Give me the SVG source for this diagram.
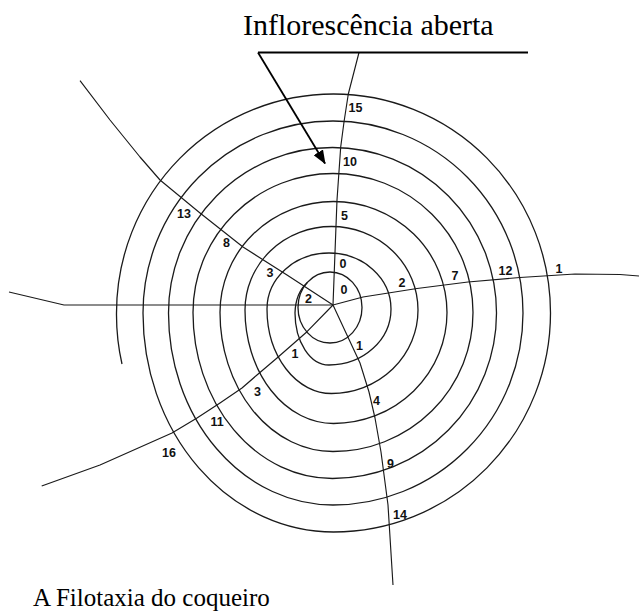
<svg xmlns="http://www.w3.org/2000/svg" width="639" height="611" viewBox="0 0 639 611">
<style>
.sp{fill:none;stroke:#1a1a1a;stroke-width:1.3}
.ray{fill:none;stroke:#1a1a1a;stroke-width:1.15;stroke-linejoin:round}
.num{font-family:"Liberation Sans",Arial,sans-serif;font-weight:bold;font-size:12.5px;fill:#111}
.ttl{font-family:"Liberation Serif","Times New Roman",serif;fill:#000}
</style>
<defs>
<marker id="ah" viewBox="0 0 14 11" refX="13" refY="5.5" markerWidth="14" markerHeight="11" markerUnits="userSpaceOnUse" orient="auto">
<path d="M0,0 L14,5.5 L0,11 Z" fill="#000"/>
</marker>
</defs>
<rect width="639" height="611" fill="#fff"/>
<g id="spiral">
<ellipse class="sp" cx="330" cy="307.5" rx="32" ry="35.5"/>
<path class="sp" d="M307.4 282.4 Q295.5 293 295 313 A34 52 0 0 0 329 365 A62 56 0 1 0 267 309 A64.5 84.5 0 0 0 331.5 393.5 A86.5 83.5 0 1 0 245 310 A88.5 113.5 0 0 0 333.5 423.5 A113.5 111 0 1 0 220 312.5 A113 139 0 0 0 333 451.5 A140 139 0 1 0 193 312.5 A139.5 166 0 0 0 332.5 478.5 A164 165.5 0 1 0 168.5 313 A164.5 192 0 0 0 333 505 A190 192 0 1 0 143 313 A190.5 219 0 0 0 333.5 532 A217 219 0 1 0 116.5 313 A217 219 0 0 0 122 364"/>
</g>
<g id="rays">
<polyline class="ray" points="333,305 336,226 337,200 340.7,147 344,122 348.3,94 359,52.5"/>
<polyline class="ray" points="333,305 363,297 417,288.5 468,282 520,277.5 575,274 620,274.5 639,276"/>
<polyline class="ray" points="333,305 360,363 369,392 375,418 381,452 388,505 393,585"/>
<polyline class="ray" points="333,305 307,331.7 277,358 257,375 242,388 220,403 197,418 172,433 100,465 41.7,486"/>
<polyline class="ray" points="333,305 64,305 9,292"/>
<polyline class="ray" points="333,305 287,275 243,247 200,213 160,180 140,157 110,120 80,80.7"/>
</g>
<g id="labels">
<text class="num" x="348.5" y="112">15</text>
<text class="num" x="343" y="165.5">10</text>
<text class="num" x="341" y="220">5</text>
<text class="num" x="339.5" y="267.5">0</text>
<text class="num" x="340.5" y="294">0</text>
<text class="num" x="398.5" y="287">2</text>
<text class="num" x="451.5" y="280">7</text>
<text class="num" x="498.5" y="274.5">12</text>
<text class="num" x="555.5" y="273">1</text>
<text class="num" x="356" y="350">1</text>
<text class="num" x="373" y="405">4</text>
<text class="num" x="387" y="468">9</text>
<text class="num" x="393" y="519">14</text>
<text class="num" x="177" y="218">13</text>
<text class="num" x="223" y="246.5">8</text>
<text class="num" x="266.5" y="277">3</text>
<text class="num" x="305" y="303">2</text>
<text class="num" x="291.5" y="358">1</text>
<text class="num" x="254" y="396">3</text>
<text class="num" x="210.5" y="426">11</text>
<text class="num" x="162" y="456.5">16</text>
</g>
<g id="annotation">
<text class="ttl" x="243" y="35" font-size="30">Inflorescência aberta</text>
<line x1="258" y1="52.5" x2="528" y2="52.5" stroke="#000" stroke-width="1.8"/>
<line x1="258" y1="52.5" x2="325" y2="163.5" stroke="#000" stroke-width="1.8" marker-end="url(#ah)"/>
</g>
<g id="caption">
<text class="ttl" x="33" y="606" font-size="25">A Filotaxia do coqueiro</text>
</g>
</svg>
